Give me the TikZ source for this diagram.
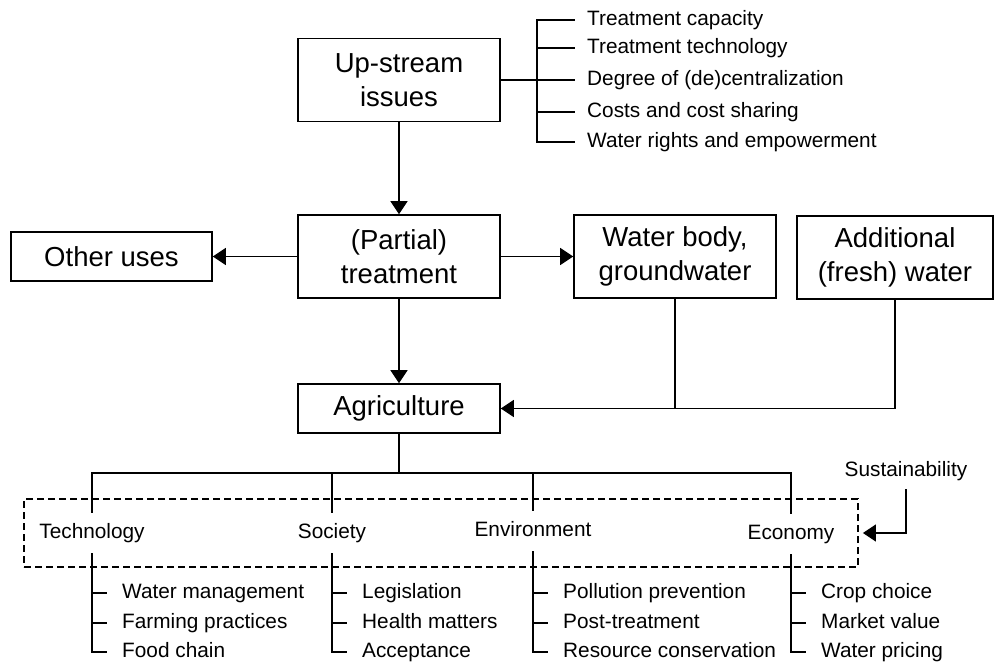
\documentclass[tikz,border=0pt]{standalone}
\usepackage{fontspec}
\setmainfont{Liberation Sans}
\usetikzlibrary{arrows.meta}

\begin{document}
\begin{tikzpicture}[x=1pt,y=-1pt,
    bigbox/.style={draw,line width=1.6pt,minimum width=202,minimum height=83,
      inner sep=0pt,align=center,font=\fontsize{27.5}{34}\selectfont},
    small/.style={font=\fontsize{20.8}{24}\selectfont,inner sep=0pt,
      text height=15pt,text depth=4pt},
    item/.style={small,anchor=west,inner xsep=15pt},
    cat/.style={small,minimum height=40},
    conn/.style={line width=1.2pt},
    arr/.style={conn,-{Triangle[length=13pt,width=17pt]}},
    dashframe/.style={draw,line width=1.8pt,dash pattern=on 7pt off 4pt,
      minimum width=834,minimum height=68,inner sep=0pt}]

  \useasboundingbox (0,0) rectangle (994,664);

  % Main boxes
  \node[bigbox] (up) at (399,80) {Up-stream\\issues};
  \node[bigbox] (part) at (399,256.5) {(Partial)\\treatment};
  \node[bigbox,minimum width=201,minimum height=49] (other) at (111.5,256.5) {Other uses};
  \node[bigbox] (wbody) at (675,256.5) {Water body,\\groundwater};
  \node[bigbox,minimum width=196] (fresh) at (895,257.5) {Additional\\(fresh) water};
  \node[bigbox,minimum height=49] (agri) at (399,408.5) {Agriculture};

  % Flows
  \draw[arr] (up.south) -- (part.north);
  \draw[arr] (part.west) -- (other.east);
  \draw[arr] (part.east) -- (wbody.west);
  \draw[arr] (part.south) -- (agri.north);
  \draw[conn] (wbody.south) -- (wbody.south |- agri.east);
  \draw[arr] (fresh.south) |- (agri.east);

  % Up-stream issues list
  \coordinate (brk) at (537,80);
  \node[item,inner xsep=12pt] (u1) at (575,20) {Treatment capacity};
  \node[item,inner xsep=12pt] (u2) at (575,48) {Treatment technology};
  \node[item,inner xsep=12pt] (u3) at (575,80) {Degree of (de)centralization};
  \node[item,inner xsep=12pt] (u4) at (575,112) {Costs and cost sharing};
  \node[item,inner xsep=12pt] (u5) at (575,142) {Water rights and empowerment};
  \draw[conn] (up.east) -- (brk);
  \draw[conn] (brk) |- (u1.west);
  \draw[conn] (brk) |- (u2.west);
  \draw[conn] (brk) |- (u3.west);
  \draw[conn] (brk) |- (u4.west);
  \draw[conn] (brk) |- (u5.west);

  % Sustainability frame
  \node[dashframe] (frame) at (441,533) {};
  \node[small,minimum height=36] (sust) at (906,471) {Sustainability};
  \draw[arr,shorten >=4pt] (sust.south) |- (frame.east);

  % Categories
  \node[cat] (tech) at (92,533) {Technology};
  \node[cat] (soc) at (332,533) {Society};
  \node[cat] (env) at (533,531) {Environment};
  \node[cat] (eco) at (791,534) {Economy};
  \coordinate (bus) at (399,473);
  \draw[conn] (agri.south) -- (bus);
  \draw[conn] (bus) -| (tech.north);
  \draw[conn] (bus) -| (soc.north);
  \draw[conn] (bus) -| (env.north);
  \draw[conn] (bus) -| (eco.north);

  % Technology
  \node[item] (t1) at (107,593) {Water management};
  \node[item] (t2) at (107,623) {Farming practices};
  \node[item] (t3) at (107,652) {Food chain};
  \draw[conn] (tech.south) |- (t1.west);
  \draw[conn] (tech.south) |- (t2.west);
  \draw[conn] (tech.south) |- (t3.west);

  % Society
  \node[item] (s1) at (347,593) {Legislation};
  \node[item] (s2) at (347,623) {Health matters};
  \node[item] (s3) at (347,652) {Acceptance};
  \draw[conn] (soc.south) |- (s1.west);
  \draw[conn] (soc.south) |- (s2.west);
  \draw[conn] (soc.south) |- (s3.west);

  % Environment
  \node[item] (e1) at (548,593) {Pollution prevention};
  \node[item] (e2) at (548,623) {Post-treatment};
  \node[item] (e3) at (548,652) {Resource conservation};
  \draw[conn] (env.south) |- (e1.west);
  \draw[conn] (env.south) |- (e2.west);
  \draw[conn] (env.south) |- (e3.west);

  % Economy
  \node[item] (c1) at (806,593) {Crop choice};
  \node[item] (c2) at (806,623) {Market value};
  \node[item] (c3) at (806,652) {Water pricing};
  \draw[conn] (eco.south) |- (c1.west);
  \draw[conn] (eco.south) |- (c2.west);
  \draw[conn] (eco.south) |- (c3.west);

\end{tikzpicture}
\end{document}
